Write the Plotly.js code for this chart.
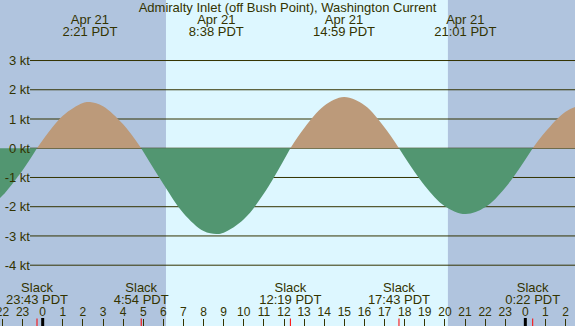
<!DOCTYPE html>
<html>
<head>
<meta charset="utf-8">
<script src="https://cdn.plot.ly/plotly-3.0.1.min.js"></script>
<style>html,body{margin:0;padding:0;background:#B0C4DE;}#chart{width:575px;height:326px;}</style>
</head>
<body>
<div id="chart"></div>
<script>
// ---- data (hours relative to midnight Apr 21, PDT; current in knots, + = flood) ----
const hours = [-2.5, -2, -1, -0.283, 1, 2, 2.35, 3, 4, 4.9, 6, 7, 8, 8.633, 9, 10, 11, 12.317, 13, 14, 14.983, 16, 17, 17.717, 19, 20, 21.017, 22, 23, 24.367, 25, 26, 26.9, 27.5];
const knots = [-1.93, -1.62, -0.75, 0, 1.11, 1.55, 1.58, 1.44, 0.82, 0, -1.22, -2.22, -2.83, -2.93, -2.89, -2.43, -1.55, 0, 0.68, 1.45, 1.75, 1.47, 0.71, 0, -1.28, -1.98, -2.25, -2.02, -1.35, 0, 0.56, 1.25, 1.48, 1.44];

const peakHours = [2.35, 8.633, 14.983, 21.017, 26.9];
const peakDates = ["Apr 21", "Apr 21", "Apr 21", "Apr 21", "Apr 22"];
const peakTimes = ["2:21 PDT", "8:38 PDT", "14:59 PDT", "21:01 PDT", "2:54 PDT"];

const slackHours = [-0.283, 4.9, 12.317, 17.717, 24.367];
const slackWords = ["Slack", "Slack", "Slack", "Slack", "Slack"];
const slackTimes = ["23:43 PDT", "4:54 PDT", "12:19 PDT", "17:43 PDT", "0:22 PDT"];

const tickHours = [-2, -1, 0, 1, 2, 3, 4, 5, 6, 7, 8, 9, 10, 11, 12, 13, 14, 15, 16, 17, 18, 19, 20, 21, 22, 23, 24, 25, 26];
const tickLabels = ["22", "23", "0", "1", "2", "3", "4", "5", "6", "7", "8", "9", "10", "11", "12", "13", "14", "15", "16", "17", "18", "19", "20", "21", "22", "23", "0", "1", "2"];
const midnightHours = [0, 24];

const sunrise = 6.13, sunset = 20.15;

const kVals = [3, 2, 1, 0, -1, -2, -3, -4];
const kLabels = ["3 kt", "2 kt", "1 kt", "0 kt", "-1 kt", "-2 kt", "-3 kt", "-4 kt"];

const title = "Admiralty Inlet (off Bush Point), Washington Current";

// ---- styles ----
const TXT = "#333300";
const NIGHT = "#B0C4DE";
const DAY = "#DDF7FF";
const FLOOD = "#BC9A7A";
const EBB = "#529671";
const FONT = "Liberation Sans, Arial, sans-serif";

// split into half-cycle segments at slack (zero) points
const segs = [];
let cur = {x: [], y: []};
for (let i = 0; i < hours.length; i++) {
  cur.x.push(hours[i]); cur.y.push(knots[i]);
  if (knots[i] === 0 && cur.x.length > 1) {
    segs.push(cur);
    cur = {x: [hours[i]], y: [knots[i]]};
  }
}
if (cur.x.length > 1) segs.push(cur);

const traces = segs.map(s => {
  const pos = s.y.reduce((a, b) => a + b, 0) > 0;
  return {
    x: s.x, y: s.y, type: "scatter", mode: "lines",
    line: {shape: "spline", width: 0, color: pos ? FLOOD : EBB},
    fill: "tozeroy", fillcolor: pos ? FLOOD : EBB, hoverinfo: "skip"
  };
});

function textRow(xs, texts, ypix, size) {
  return {
    x: xs, y: xs.map(() => 326 - ypix), yaxis: "y2", type: "scatter", mode: "text",
    text: texts, textposition: "middle center", cliponaxis: false,
    textfont: {family: FONT, size: size, color: TXT}, hoverinfo: "skip"
  };
}
traces.push(textRow(peakHours, peakDates, 21, 13));
traces.push(textRow(peakHours, peakTimes, 33, 13));
traces.push(textRow(slackHours, slackWords, 288.5, 13));
traces.push(textRow(slackHours, slackTimes, 300.5, 13));
traces.push(textRow(tickHours, tickLabels, 313, 12));

const shapes = [];
shapes.push({type: "rect", xref: "x", yref: "paper", x0: sunrise, x1: sunset, y0: 0, y1: 1,
  fillcolor: DAY, line: {width: 0}, layer: "below"});
kVals.forEach(v => shapes.push({type: "line", xref: "paper", yref: "y", x0: 30 / 575, x1: 1, y0: v, y1: v,
  line: {color: TXT, width: 1}, layer: "below"}));
midnightHours.forEach(h => shapes.push({type: "line", xref: "x", yref: "paper", x0: h, x1: h, y0: 0, y1: 8 / 326,
  line: {color: "#000000", width: 3}}));
slackHours.forEach(h => shapes.push({type: "line", xref: "x", yref: "paper", x0: h, x1: h, y0: 0, y1: 7.5 / 326,
  line: {color: "#FF0000", width: 1}}));

const layout = {
  width: 575, height: 326,
  margin: {l: 0, r: 0, t: 0, b: 0, pad: 0},
  paper_bgcolor: NIGHT, plot_bgcolor: NIGHT,
  showlegend: false,
  font: {family: FONT, color: TXT, size: 13},
  title: {text: title, x: 0.5, xanchor: "center", y: 1 - 7.5 / 326, yanchor: "middle",
    font: {family: FONT, size: 13, color: TXT}},
  xaxis: {range: [-2.123, 26.47], tickvals: tickHours, ticktext: tickLabels, showticklabels: false,
    ticks: "inside", ticklen: 7, tickwidth: 1, tickcolor: TXT,
    showgrid: false, zeroline: false, showline: false, fixedrange: true},
  yaxis: {range: [-6.08, 5.07], tickvals: kVals, ticktext: kLabels, anchor: "free", position: 30 / 575,
    side: "left", ticks: "", showgrid: false, zeroline: false, showline: false,
    tickfont: {family: FONT, size: 13, color: TXT}, fixedrange: true},
  yaxis2: {overlaying: "y", range: [0, 326], visible: false, fixedrange: true},
  shapes: shapes
};

Plotly.newPlot("chart", traces, layout, {displayModeBar: false, staticPlot: true});
</script>
</body>
</html>
